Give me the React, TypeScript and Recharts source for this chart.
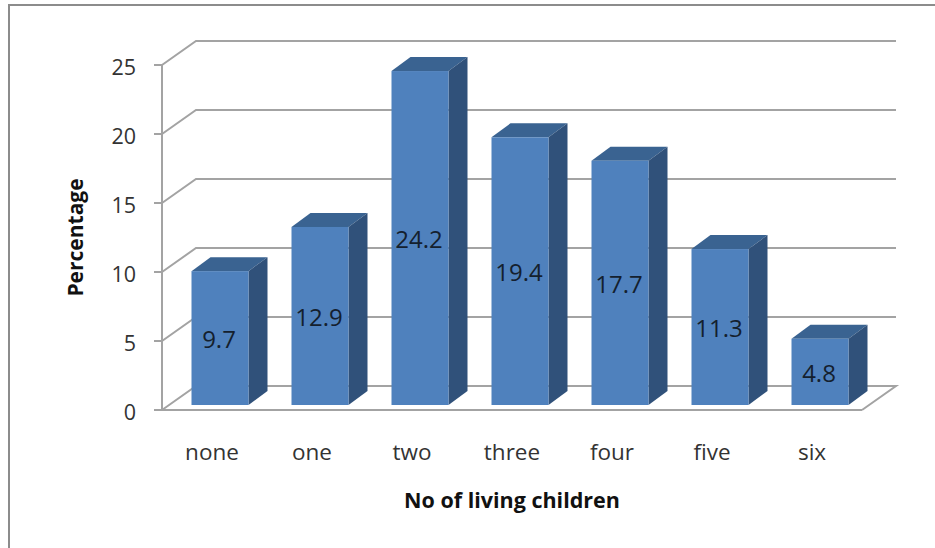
import { BarChart, Bar, XAxis, YAxis, CartesianGrid, LabelList } from 'recharts'

const CATEGORIES = ['none', 'one', 'two', 'three', 'four', 'five', 'six']
const PERCENTAGES = [9.7, 12.9, 24.2, 19.4, 17.7, 11.3, 4.8]
const Y_TICKS = [0, 5, 10, 15, 20, 25]

const data = CATEGORIES.map((category, i) => ({ category, percentage: PERCENTAGES[i] }))

const FONT = '"Open Sans", sans-serif'
const GRID_COLOR = '#A3A3A3'

// depth of the back wall and of each box, in px
const WALL_DX = 34
const WALL_DY = 24
const BOX_DX = 19
const BOX_DY = 14
// boxes sit slightly inside the floor
const BOX_SHIFT_X = 7.5
const BOX_SHIFT_Y = 5

function WallLine({ x1, x2, y1 }: any) {
  const isFloor = y1 > 400
  const d = isFloor
    ? `M${x1},${y1} L${x1 + WALL_DX},${y1 - WALL_DY} L${x2 + WALL_DX},${y1 - WALL_DY} L${x2},${y1}`
    : `M${x1},${y1} L${x1 + WALL_DX},${y1 - WALL_DY} L${x2 + WALL_DX},${y1 - WALL_DY}`
  return <path d={d} fill="none" stroke={GRID_COLOR} strokeWidth={2} />
}

function Box({ x, y, width, height }: any) {
  const left = x + BOX_SHIFT_X
  const right = left + width
  const top = y - BOX_SHIFT_Y
  const bottom = top + height
  return (
    <g>
      <path
        d={`M${left},${top} L${left + BOX_DX},${top - BOX_DY} L${right + BOX_DX},${top - BOX_DY} L${right},${top} Z`}
        fill="#3A6391"
      />
      <path
        d={`M${right},${top} L${right + BOX_DX},${top - BOX_DY} L${right + BOX_DX},${bottom - BOX_DY} L${right},${bottom} Z`}
        fill="#30517A"
      />
      <rect x={left} y={top} width={width} height={height} fill="#4F81BD" />
    </g>
  )
}

export default function App() {
  return (
    <div style={{ position: 'absolute', left: 0, top: 0, width: 935, height: 548, background: '#fff', overflow: 'hidden' }}>
      <div
        style={{
          position: 'absolute',
          left: 8,
          top: 4,
          width: 927,
          height: 544,
          boxSizing: 'border-box',
          borderTop: '2px solid #8C8C8C',
          borderLeft: '2px solid #8C8C8C',
        }}
      />
      <BarChart
        width={935}
        height={548}
        data={data}
        margin={{ top: 65, right: 73, left: 0, bottom: 0 }}
        style={{ position: 'absolute', left: 0, top: 0 }}
      >
        <CartesianGrid vertical={false} horizontal={(props: any) => <WallLine key={props.key} {...props} />} />
        <XAxis
          dataKey="category"
          height={138}
          axisLine={{ stroke: GRID_COLOR, strokeWidth: 2 }}
          tickLine={false}
          tickMargin={28}
          tick={{ fill: '#333', fontSize: 22.5, fontFamily: FONT }}
          label={{
            value: 'No of living children',
            position: 'insideBottom',
            offset: 40,
            fill: '#111',
            fontSize: 21.5,
            fontWeight: 700,
            fontFamily: FONT,
          }}
        />
        <YAxis
          width={162}
          domain={[0, 25]}
          ticks={Y_TICKS}
          axisLine={{ stroke: GRID_COLOR, strokeWidth: 2 }}
          tickLine={{ stroke: GRID_COLOR, strokeWidth: 2 }}
          tickSize={8}
          tickMargin={18}
          tick={{ fill: '#333', fontSize: 21.5, fontFamily: FONT, dy: 2 }}
          label={{
            value: 'Percentage',
            angle: -90,
            position: 'insideLeft',
            offset: 76,
            textAnchor: 'middle',
            fill: '#111',
            fontSize: 21,
            fontWeight: 700,
            fontFamily: FONT,
          }}
        />
        <Bar dataKey="percentage" barSize={57} shape={<Box />} isAnimationActive={false}>
          <LabelList
            dataKey="percentage"
            position="center"
            dx={BOX_SHIFT_X - 1}
            dy={-BOX_SHIFT_Y / 2 - 1}
            fill="#14202E"
            fontSize={24}
            fontFamily={FONT}
          />
        </Bar>
      </BarChart>
    </div>
  )
}
